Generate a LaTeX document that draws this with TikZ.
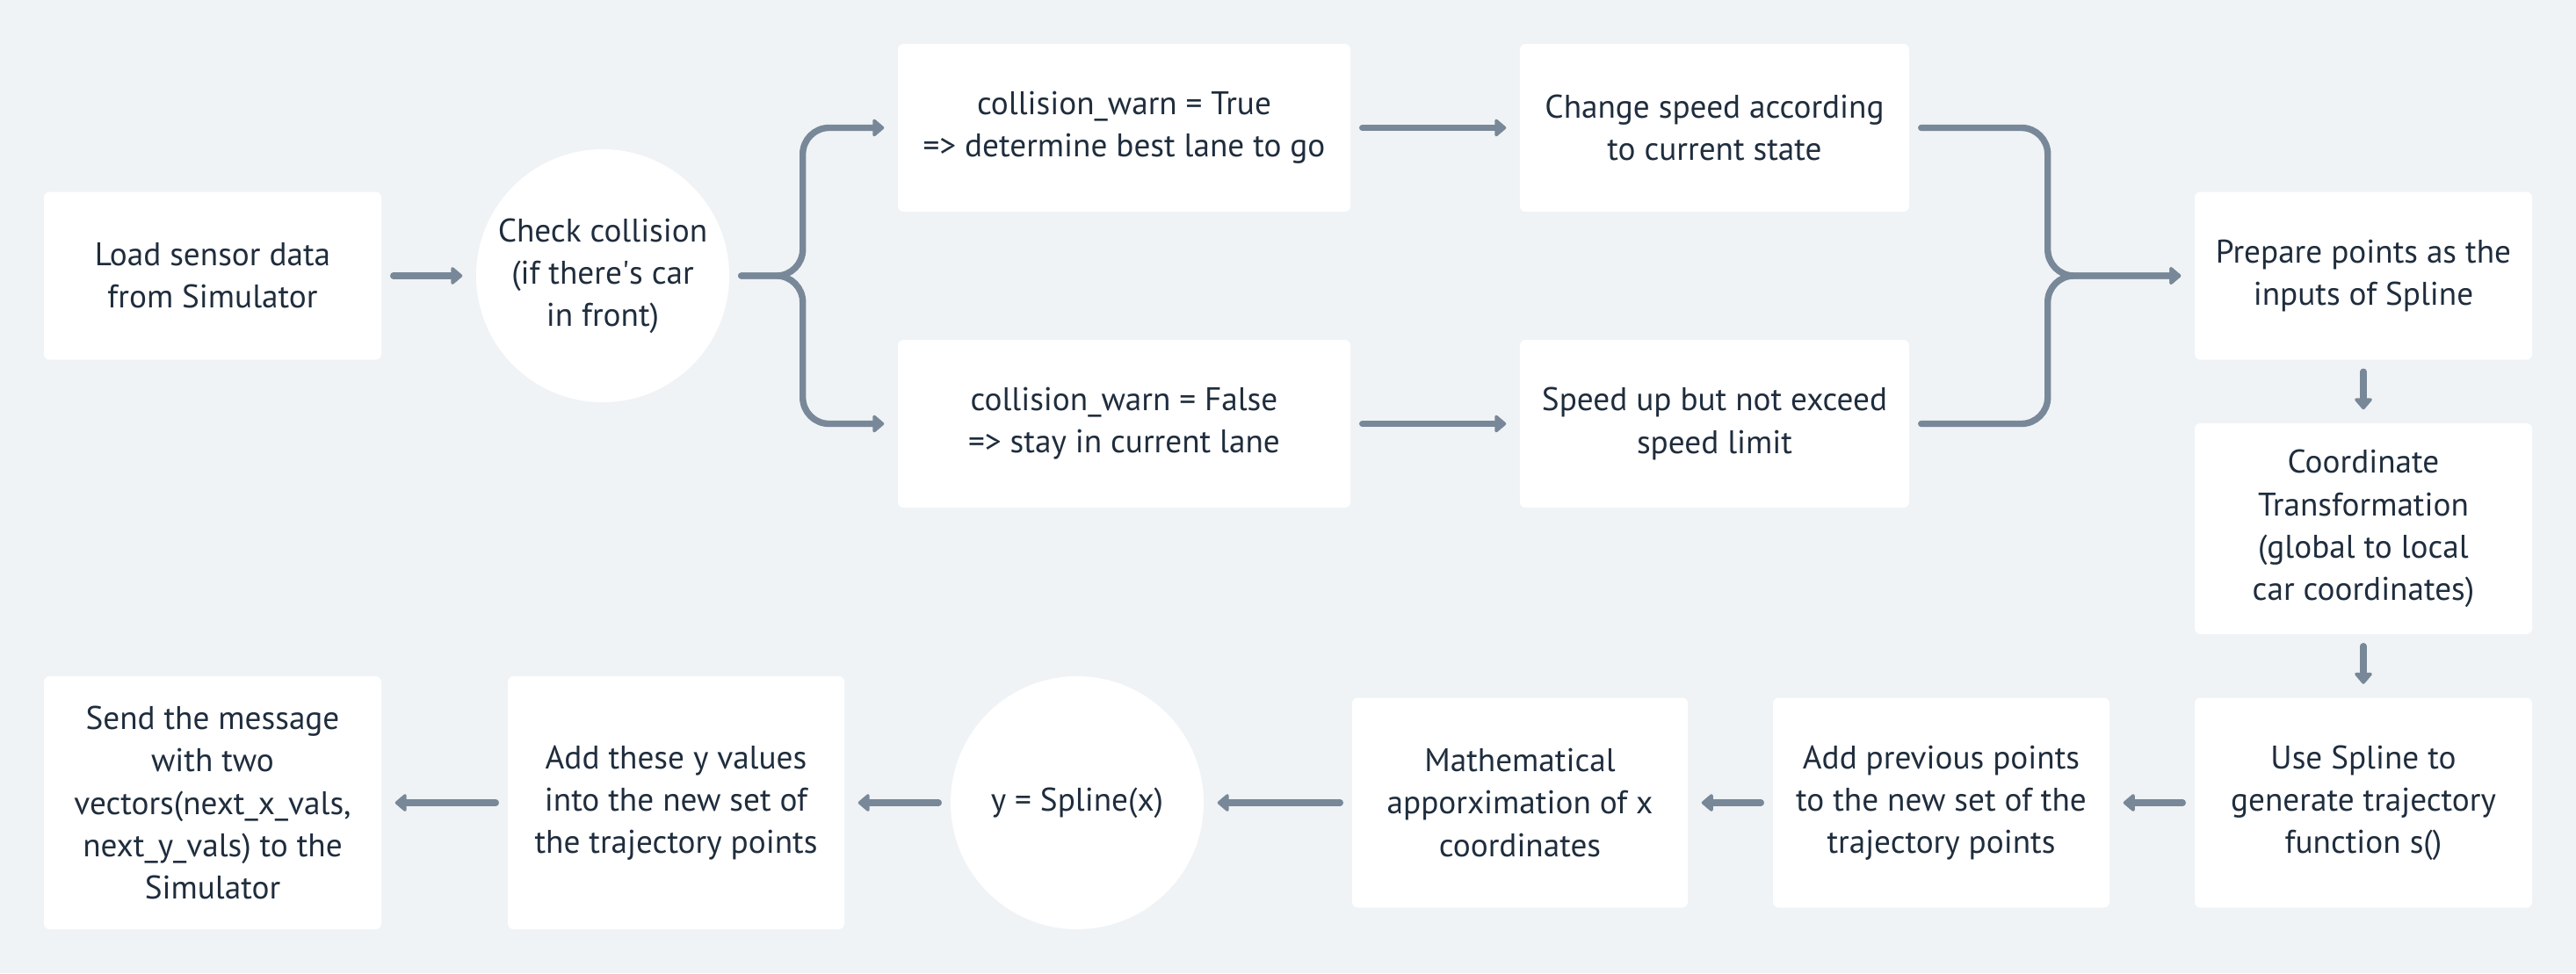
\documentclass[tikz,border=0pt]{standalone}
\usepackage{fontspec}
\setmainfont{PT Sans}
\usetikzlibrary{arrows.meta}
\definecolor{bgcol}{HTML}{EFF3F6}
\definecolor{linecol}{HTML}{788898}
\definecolor{txtcol}{HTML}{1F2D3D}
\tikzset{
    box/.style={fill=white, rounded corners=1.8pt, align=center, text=txtcol, inner sep=0pt,
        font=\fontsize{10.6}{13.7}\selectfont},
    disc/.style={circle, fill=white, minimum size=2.88cm, align=center, text=txtcol, inner sep=0pt,
        font=\fontsize{10.6}{13.7}\selectfont},
    flow/.style={draw=linecol, line width=2.1pt, line cap=round,
        -{Triangle[length=4pt,width=6.5pt,round]}, shorten <=1.3mm, shorten >=1.5mm},
}
\begin{document}
\begin{tikzpicture}
        \fill[bgcol] (0,0) rectangle (29.32,-11.08);
        \useasboundingbox (0,0) rectangle (29.32,-11.08);

        \def\ya{-1.455}
        \def\yb{-3.14}
        \def\yc{-4.825}
        \def\yd{-9.14}

        \node[box, minimum width=3.84cm, minimum height=1.91cm] (load) at (2.42,\yb) {Load sensor data\\from Simulator};
        \node[disc] (check) at (6.86,\yb) {Check collision\\(if there\textquotesingle s car\\in front)};
        \node[box, minimum width=5.15cm, minimum height=1.91cm] (warnT) at (12.795,\ya) {collision\_warn = True\\=> determine best lane to go};
        \node[box, minimum width=5.15cm, minimum height=1.91cm] (warnF) at (12.795,\yc) {collision\_warn = False\\=> stay in current lane};
        \node[box, minimum width=4.43cm, minimum height=1.91cm] (chspeed) at (19.515,\ya) {Change speed according\\to current state};
        \node[box, minimum width=4.43cm, minimum height=1.91cm] (spup) at (19.515,\yc) {Speed up but not exceed\\speed limit};
        \node[box, minimum width=3.84cm, minimum height=1.91cm] (prep) at (26.90,\yb) {Prepare points as the\\inputs of Spline};
        \node[box, minimum width=3.84cm, minimum height=2.40cm] (coord) at (26.90,-6.02) {Coordinate\\Transformation\\(global to local\\car coordinates)};

        \node[box, minimum width=3.84cm, minimum height=2.39cm] (usesp) at (26.90,\yd) {Use Spline to\\generate trajectory\\function s()};
        \node[box, minimum width=3.83cm, minimum height=2.39cm] (addprev) at (22.095,\yd) {Add previous points\\to the new set of the\\trajectory points};
        \node[box, minimum width=3.82cm, minimum height=2.39cm] (math) at (17.30,\yd) {Mathematical\\apporximation of x\\coordinates};
        \node[disc] (ysp) at (12.26,\yd) {y = Spline(x)};
        \node[box, minimum width=3.83cm, minimum height=2.88cm] (addy) at (7.695,\yd) {Add these y values\\into the new set of\\the trajectory points};
        \node[box, minimum width=3.84cm, minimum height=2.88cm] (send) at (2.42,\yd) {Send the message\\with two\\vectors(next\_x\_vals,\\next\_y\_vals) to the\\Simulator};

        \draw[flow] (load) -- (check);
        \draw[flow, rounded corners=0.3cm] (check.east) -- ++(0.83,0) |- (warnT.west);
        \draw[flow, rounded corners=0.3cm] (check.east) -- ++(0.83,0) |- (warnF.west);
        \draw[flow] (warnT) -- (chspeed);
        \draw[flow] (warnF) -- (spup);
        \draw[flow, rounded corners=0.3cm] (chspeed.east) -- ++(1.57,0) |- (prep.west);
        \draw[flow, rounded corners=0.3cm] (spup.east) -- ++(1.57,0) |- (prep.west);
        \draw[flow] (prep) -- (coord);
        \draw[flow] (coord) -- (usesp);
        \draw[flow] (usesp) -- (addprev);
        \draw[flow] (addprev) -- (math);
        \draw[flow] (math) -- (ysp);
        \draw[flow] (ysp) -- (addy);
        \draw[flow] (addy) -- (send);
\end{tikzpicture}
\end{document}
